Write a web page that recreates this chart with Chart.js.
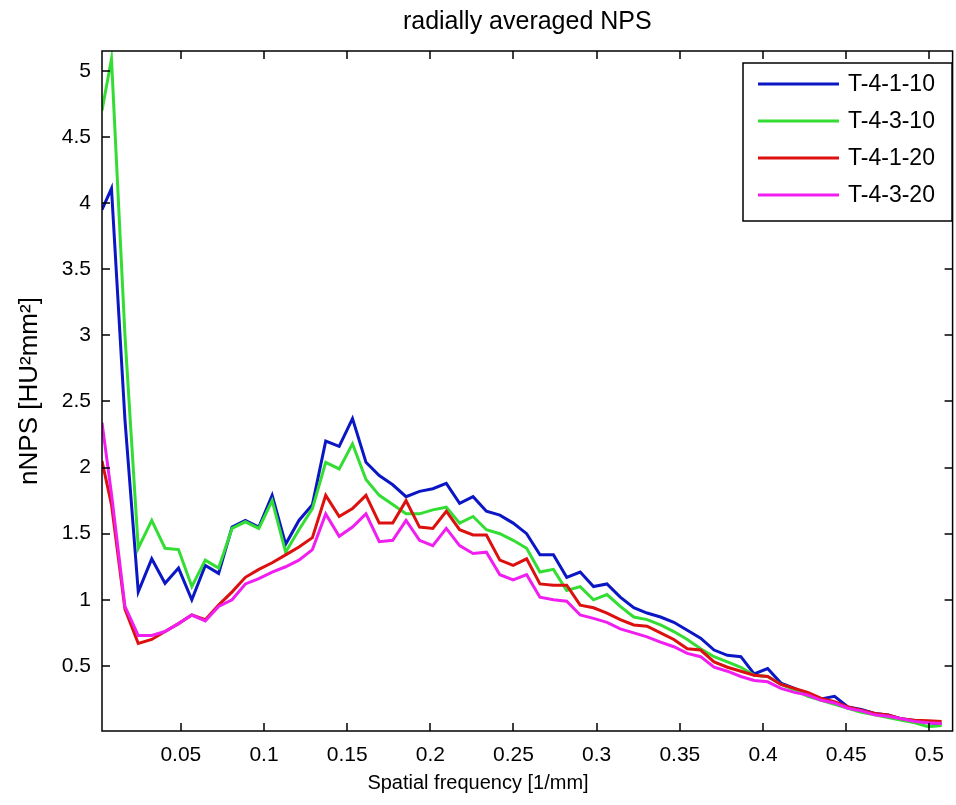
<!DOCTYPE html>
<html>
<head>
<meta charset="utf-8">
<script src="https://cdn.jsdelivr.net/npm/chart.js@4.4.0/dist/chart.umd.min.js"></script>
<style>
  html, body { margin: 0; padding: 0; background: #fff; }
</style>
</head>
<body>
<canvas id="cav" width="956" height="805"></canvas>
<script>
// Spatial frequency [1/mm]
var freq = [0.0026, 0.0083, 0.0164, 0.0244, 0.0325, 0.0405, 0.0486, 0.0566, 0.0647, 0.0727,
    0.0808, 0.0888, 0.0969, 0.1049, 0.1130, 0.1210, 0.1291, 0.1371, 0.1452, 0.1532,
    0.1613, 0.1693, 0.1774, 0.1854, 0.1935, 0.2015, 0.2096, 0.2176, 0.2257, 0.2337,
    0.2418, 0.2498, 0.2579, 0.2659, 0.2740, 0.2820, 0.2901, 0.2981, 0.3062, 0.3142,
    0.3223, 0.3303, 0.3384, 0.3464, 0.3545, 0.3625, 0.3706, 0.3786, 0.3867, 0.3947,
    0.4028, 0.4108, 0.4189, 0.4269, 0.4350, 0.4430, 0.4511, 0.4591, 0.4672, 0.4752,
    0.4833, 0.4913, 0.4994, 0.5074];

// nNPS values per series
var nps_4_1_10 = [3.95, 4.11, 2.36, 1.06, 1.31, 1.125, 1.24, 1.00, 1.26, 1.20,
    1.55, 1.60, 1.55, 1.79, 1.42, 1.60, 1.72, 2.20, 2.16, 2.37,
    2.04, 1.94, 1.87, 1.78, 1.82, 1.84, 1.88, 1.73, 1.78, 1.67,
    1.64, 1.58, 1.50, 1.34, 1.34, 1.17, 1.21, 1.10, 1.12, 1.02,
    0.94, 0.90, 0.87, 0.83, 0.77, 0.71, 0.62, 0.58, 0.57, 0.44,
    0.48, 0.37, 0.33, 0.28, 0.25, 0.27, 0.19, 0.17, 0.14, 0.13,
    0.10, 0.085, 0.07, 0.06];

var nps_4_3_10 = [4.70, 5.09, 3.00, 1.39, 1.60, 1.39, 1.38, 1.10, 1.30, 1.24,
    1.54, 1.59, 1.54, 1.75, 1.36, 1.53, 1.69, 2.04, 1.99, 2.18,
    1.91, 1.79, 1.72, 1.65, 1.65, 1.68, 1.70, 1.58, 1.63, 1.53,
    1.50, 1.45, 1.39, 1.21, 1.23, 1.07, 1.10, 1.00, 1.04, 0.95,
    0.87, 0.85, 0.81, 0.76, 0.70, 0.63, 0.57, 0.53, 0.49, 0.43,
    0.42, 0.36, 0.32, 0.27, 0.24, 0.21, 0.18, 0.15, 0.13, 0.11,
    0.09, 0.07, 0.04, 0.05];

var nps_4_1_20 = [2.05, 1.72, 0.93, 0.67, 0.70, 0.76, 0.82, 0.885, 0.85, 0.96,
    1.06, 1.17, 1.23, 1.28, 1.34, 1.40, 1.47, 1.79, 1.63, 1.69,
    1.79, 1.58, 1.58, 1.75, 1.55, 1.54, 1.67, 1.53, 1.49, 1.49,
    1.30, 1.26, 1.31, 1.12, 1.11, 1.11, 0.96, 0.94, 0.90, 0.85,
    0.81, 0.80, 0.75, 0.70, 0.63, 0.62, 0.53, 0.49, 0.46, 0.43,
    0.42, 0.36, 0.33, 0.30, 0.255, 0.23, 0.19, 0.165, 0.14, 0.13,
    0.10, 0.09, 0.085, 0.08];

var nps_4_3_20 = [2.34, 1.80, 0.95, 0.73, 0.73, 0.76, 0.82, 0.885, 0.84, 0.95,
    1.00, 1.12, 1.16, 1.21, 1.25, 1.30, 1.38, 1.65, 1.48, 1.55,
    1.65, 1.44, 1.45, 1.60, 1.45, 1.41, 1.54, 1.41, 1.35, 1.36,
    1.19, 1.15, 1.19, 1.02, 1.00, 0.99, 0.885, 0.86, 0.83, 0.78,
    0.75, 0.72, 0.68, 0.645, 0.595, 0.57, 0.49, 0.46, 0.42, 0.39,
    0.38, 0.33, 0.30, 0.28, 0.24, 0.22, 0.18, 0.16, 0.13, 0.12,
    0.10, 0.08, 0.07, 0.065];

var labels = ['T-4-1-10', 'T-4-3-10', 'T-4-1-20', 'T-4-3-20'];
var colours = ['#0b17c4', '#33dd33', '#dd1010', '#f01ef0'];

var xTicks = [0.05, 0.1, 0.15, 0.2, 0.25, 0.3, 0.35, 0.4, 0.45, 0.5];
var yTicks = [0.5, 1, 1.5, 2, 2.5, 3, 3.5, 4, 4.5, 5];

var fontFamily = "'Liberation Sans', Arial, sans-serif";

function toPoints(vals) {
    return vals.map(function (v, i) {
        return { x: freq[i], y: v };
    });
}

// box, inner ticks on all four sides, x label, legend inside the axes
var matlabAxes = {
    id: 'matlabAxes',
    afterDatasetsDraw: function (chart) {
        var ctx = chart.ctx;
        var a = chart.chartArea;
        var xs = chart.scales.x, ys = chart.scales.y;
        var tl = 8;
        ctx.save();
        ctx.strokeStyle = '#000';
        ctx.lineWidth = 1.5;
        ctx.beginPath();
        xTicks.forEach(function (t) {
            var px = Math.round(xs.getPixelForValue(t));
            ctx.moveTo(px, a.bottom); ctx.lineTo(px, a.bottom - tl);
            ctx.moveTo(px, a.top); ctx.lineTo(px, a.top + tl);
        });
        yTicks.forEach(function (t) {
            var py = Math.round(ys.getPixelForValue(t));
            ctx.moveTo(a.left, py); ctx.lineTo(a.left + tl, py);
            ctx.moveTo(a.right, py); ctx.lineTo(a.right - tl, py);
        });
        ctx.stroke();
        ctx.strokeRect(a.left, a.top, a.right - a.left, a.bottom - a.top);

        // x label sits centred on the figure, not on the axes
        ctx.fillStyle = '#000';
        ctx.font = '20px ' + fontFamily;
        ctx.textAlign = 'center';
        ctx.textBaseline = 'middle';
        ctx.fillText('Spatial frequency [1/mm]', 478, 783);

        // legend
        var bx = 743, by = 63, bw = 209, bh = 158;
        ctx.fillStyle = '#fff';
        ctx.fillRect(bx, by, bw, bh);
        ctx.lineWidth = 1.5;
        ctx.strokeRect(bx, by, bw, bh);
        ctx.font = '23px ' + fontFamily;
        ctx.textBaseline = 'middle';
        ctx.textAlign = 'left';
        chart.data.datasets.forEach(function (ds, i) {
            var ry = by + 21 + i * 37;
            ctx.strokeStyle = ds.borderColor;
            ctx.lineWidth = 3;
            ctx.beginPath();
            ctx.moveTo(758, ry); ctx.lineTo(839, ry);
            ctx.stroke();
            ctx.fillStyle = '#000';
            ctx.fillText(ds.label, 848, ry + 1);
        });
        ctx.restore();
    }
};

var datasets = [nps_4_1_10, nps_4_3_10, nps_4_1_20, nps_4_3_20].map(function (vals, i) {
    return {
        label: labels[i],
        data: toPoints(vals),
        borderColor: colours[i],
        backgroundColor: colours[i],
        borderWidth: 3,
        pointRadius: 0,
        tension: 0,
        fill: false,
        order: 4 - i
    };
});

var chart = new Chart(document.getElementById('cav'), {
    type: 'line',
    data: { datasets: datasets },
    options: {
        responsive: false,
        animation: false,
        devicePixelRatio: 1,
        layout: { padding: { left: 0, right: 3, top: 0, bottom: 0 } },
        plugins: {
            legend: { display: false },
            tooltip: { enabled: false },
            title: {
                display: true,
                fullSize: false,
                text: 'radially averaged NPS',
                color: '#000',
                font: { family: fontFamily, size: 25, weight: 'normal' },
                padding: { top: 7, bottom: 14 }
            }
        },
        scales: {
            x: {
                type: 'linear',
                min: 0.0026,
                max: 0.514,
                afterBuildTicks: function (s) {
                    s.ticks = xTicks.map(function (v) { return { value: v }; });
                },
                afterFit: function (s) { s.height = 74; },
                grid: { display: false, drawTicks: false },
                border: { display: false },
                ticks: {
                    padding: 12,
                    color: '#000',
                    maxRotation: 0,
                    autoSkip: false,
                    font: { family: fontFamily, size: 21 },
                    callback: function (v) { return String(v); }
                }
            },
            y: {
                type: 'linear',
                min: 0.008,
                max: 5.15,
                afterBuildTicks: function (s) {
                    s.ticks = yTicks.map(function (v) { return { value: v }; });
                },
                afterFit: function (s) { s.width = 102; },
                grid: { display: false, drawTicks: false },
                border: { display: false },
                ticks: {
                    padding: 11,
                    color: '#000',
                    autoSkip: false,
                    font: { family: fontFamily, size: 21 },
                    callback: function (v) { return String(v); }
                },
                title: {
                    display: true,
                    text: 'nNPS [HU\u00b2mm\u00b2]',
                    color: '#000',
                    font: { family: fontFamily, size: 26 },
                    padding: { top: 14, bottom: 0 }
                }
            }
        }
    },
    plugins: [matlabAxes]
});
</script>
</body>
</html>
